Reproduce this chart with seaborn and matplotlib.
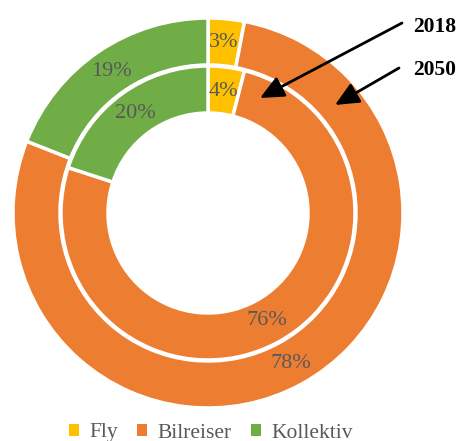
import matplotlib
matplotlib.use("Agg")
import matplotlib.pyplot as plt
from matplotlib.patches import Patch
import seaborn as sns

# Data
categories = ["Fly", "Bilreiser", "Kollektiv"]
andel_2050 = [3, 78, 19]   # ytre ring
andel_2018 = [4, 76, 20]   # indre ring
farger = ["#FFC000", "#ED7D31", "#70AD47"]
aar_labels = ["2018", "2050"]

sns.set_theme(style="white")
plt.rcParams["font.family"] = ["Liberation Serif", "DejaVu Serif"]

W, H = 459, 441
fig = plt.figure(figsize=(W / 100, H / 100), dpi=100)
ax = fig.add_axes([0, 0, 1, 1])

cx, cy = 208, H - 213
tekst_farge = "#595959"

# ytre ring (2050)
ax.pie(andel_2050, radius=195, center=(cx, cy), colors=farger,
       startangle=90, counterclock=False, frame=True,
       autopct="%d%%", pctdistance=0.88,
       wedgeprops=dict(width=47, edgecolor="white", linewidth=2.5),
       textprops=dict(color=tekst_farge, fontsize=16))

# indre ring (2018)
ax.pie(andel_2018, radius=147, center=(cx, cy), colors=farger,
       startangle=90, counterclock=False, frame=True,
       autopct="%d%%", pctdistance=0.835,
       wedgeprops=dict(width=47, edgecolor="white", linewidth=2.5),
       textprops=dict(color=tekst_farge, fontsize=16))

ax.set_xlim(0, W)
ax.set_ylim(0, H)
ax.set_aspect("equal")
ax.axis("off")

# piler med årstall
pil = dict(arrowstyle="-|>,head_length=1.2,head_width=0.55", color="black",
           lw=2, shrinkA=0, shrinkB=0)
ax.annotate("", xy=(260, H - 98), xytext=(402, H - 23), arrowprops=pil)
ax.annotate("", xy=(335, H - 105), xytext=(399, H - 68), arrowprops=pil)
ax.text(435, H - 27, aar_labels[0], ha="center", va="center",
        fontsize=15.5, fontweight="bold", color="black")
ax.text(435, H - 70, aar_labels[1], ha="center", va="center",
        fontsize=15.5, fontweight="bold", color="black")

handles = [Patch(facecolor=c, edgecolor="none") for c in farger]
leg = ax.legend(handles, categories, loc="center", ncol=3,
                bbox_to_anchor=(211 / W, 1 - 433 / H),
                frameon=False, fontsize=15.5, handlelength=0.45,
                handleheight=0.45, handletextpad=0.5, columnspacing=0.9,
                labelcolor=tekst_farge)

fig.savefig("out.png", dpi=100)
